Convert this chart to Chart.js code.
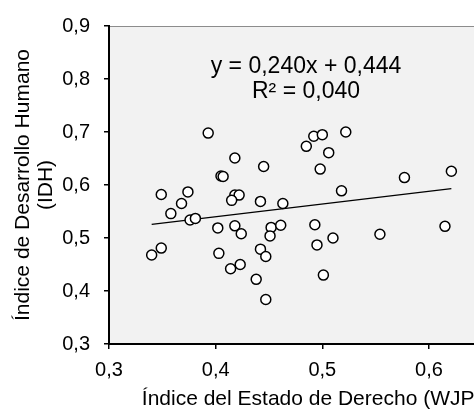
<!DOCTYPE html>
<html>
<head>
<meta charset="utf-8">
<script src="https://cdn.jsdelivr.net/npm/chart.js@4"></script>
<style>
  html, body { margin: 0; padding: 0; background: #fff; }
  #marc { width: 474px; height: 414px; overflow: hidden; position: relative; }
  #grafic { display: block; }
</style>
</head>
<body>
<div id="marc"><canvas id="grafic" width="530" height="414"></canvas></div>
<script>
// Índice del Estado de Derecho (WJP) per país
var estatDret = [0.393, 0.418, 0.445, 0.405, 0.407, 0.349, 0.374, 0.368, 0.358, 0.376,
                 0.381, 0.418, 0.422, 0.415, 0.442, 0.463, 0.402, 0.418, 0.424, 0.452,
                 0.461, 0.451, 0.349, 0.340, 0.403, 0.442, 0.447, 0.414, 0.423, 0.438,
                 0.447, 0.492, 0.500, 0.522, 0.485, 0.506, 0.498, 0.577, 0.621, 0.518,
                 0.493, 0.510, 0.495, 0.554, 0.615, 0.501];
// Índice de Desarrollo Humano (IDH), mateix ordre
var idh = [0.698, 0.651, 0.635, 0.617, 0.616, 0.582, 0.587, 0.565, 0.546, 0.534,
           0.537, 0.581, 0.581, 0.571, 0.569, 0.565, 0.519, 0.523, 0.508, 0.520,
           0.524, 0.504, 0.481, 0.468, 0.471, 0.479, 0.465, 0.442, 0.450, 0.422,
           0.384, 0.692, 0.695, 0.700, 0.673, 0.661, 0.630, 0.614, 0.626, 0.589,
           0.525, 0.500, 0.487, 0.507, 0.522, 0.430];

// línia de tendència tal com la dóna el gràfic
var pendent = 0.240;
var ordenada = 0.444;
var r2 = 0.040;

var ticksX = [0.3, 0.4, 0.5, 0.6];
var ticksY = [0.3, 0.4, 0.5, 0.6, 0.7, 0.8, 0.9];

function ambComa(v, dec) {
    return v.toFixed(dec).replace('.', ',');
}

function obtenirPunts() {
    var punts = [];
    for (var i = 0; i < estatDret.length; i++) {
        punts.push({ x: estatDret[i], y: idh[i] });
    }
    return punts;
}

function obtenirTendencia() {
    var xMin = Math.min.apply(null, estatDret);
    var xMax = Math.max.apply(null, estatDret);
    return [
        { x: xMin, y: pendent * xMin + ordenada },
        { x: xMax, y: pendent * xMax + ordenada }
    ];
}

// fons gris de l'àrea i equació de la recta
var fonsIEquacio = {
    id: 'fonsIEquacio',
    beforeDraw: function(chart) {
        var a = chart.chartArea;
        var ctx = chart.ctx;
        ctx.save();
        ctx.fillStyle = '#f2f2f2';
        ctx.fillRect(a.left, a.top, a.right - a.left, a.bottom - a.top);
        ctx.strokeStyle = '#8c8c8c';
        ctx.lineWidth = 1;
        ctx.beginPath();
        ctx.moveTo(a.left, a.top + 0.5);
        ctx.lineTo(a.right, a.top + 0.5);
        ctx.stroke();
        ctx.restore();
    },
    afterDatasetsDraw: function(chart) {
        var ctx = chart.ctx;
        var sx = chart.scales.x;
        var sy = chart.scales.y;
        ctx.save();
        ctx.fillStyle = '#000';
        ctx.font = '23px "Liberation Sans", Arial, sans-serif';
        ctx.textAlign = 'center';
        ctx.textBaseline = 'middle';
        var cx = sx.getPixelForValue(0.4847);
        ctx.fillText('y = ' + ambComa(pendent, 3) + 'x + ' + ambComa(ordenada, 3), cx, sy.getPixelForValue(0.8236));
        ctx.fillText('R² = ' + ambComa(r2, 3), cx, sy.getPixelForValue(0.777));
        ctx.restore();
    }
};

var ctx = document.getElementById('grafic').getContext('2d');
var grafic = new Chart(ctx, {
    type: 'scatter',
    data: {
        datasets: [{
            label: 'Països',
            data: obtenirPunts(),
            pointRadius: 5,
            pointHoverRadius: 5,
            backgroundColor: '#ffffff',
            borderColor: '#000000',
            borderWidth: 1.5,
            order: 1
        }, {
            label: 'Tendència',
            type: 'line',
            data: obtenirTendencia(),
            borderColor: '#000000',
            borderWidth: 1.3,
            pointRadius: 0,
            fill: false,
            order: 2
        }]
    },
    options: {
        responsive: false,
        animation: false,
        devicePixelRatio: 1,
        layout: { padding: { top: 22, right: 15.7, left: 0, bottom: 0 } },
        plugins: {
            legend: { display: false },
            tooltip: { enabled: false }
        },
        scales: {
            x: {
                type: 'linear',
                min: 0.3,
                max: 0.68,
                afterFit: function(scale) { scale.height = 70; },
                afterBuildTicks: function(scale) {
                    scale.ticks = ticksX.map(function(v) { return { value: v }; });
                },
                ticks: {
                    color: '#000',
                    padding: 9,
                    font: { family: '"Liberation Sans", Arial, sans-serif', size: 20 },
                    callback: function(v) { return ambComa(v, 1); }
                },
                grid: { drawOnChartArea: false, color: '#000', lineWidth: 1.5, tickLength: 5 },
                border: { color: '#000', width: 2 },
                title: {
                    display: true,
                    text: 'Índice del Estado de Derecho (WJP)',
                    color: '#000',
                    padding: { top: 0, bottom: 3 },
                    font: { family: '"Liberation Sans", Arial, sans-serif', size: 21, lineHeight: 1.1 }
                }
            },
            y: {
                type: 'linear',
                min: 0.3,
                max: 0.9,
                afterFit: function(scale) { scale.width = 109; },
                afterBuildTicks: function(scale) {
                    scale.ticks = ticksY.map(function(v) { return { value: v }; });
                },
                ticks: {
                    color: '#000',
                    padding: 14,
                    font: { family: '"Liberation Sans", Arial, sans-serif', size: 20 },
                    callback: function(v) { return ambComa(v, 1); }
                },
                grid: { drawOnChartArea: false, color: '#000', lineWidth: 1.5, tickLength: 5 },
                border: { color: '#000', width: 2 },
                title: {
                    display: true,
                    text: ['Índice de Desarrollo Humano', '(IDH)'],
                    color: '#000',
                    padding: { top: 11.5, bottom: 0 },
                    font: { family: '"Liberation Sans", Arial, sans-serif', size: 21, lineHeight: 1.1 }
                }
            }
        }
    },
    plugins: [fonsIEquacio]
});
</script>
</body>
</html>
